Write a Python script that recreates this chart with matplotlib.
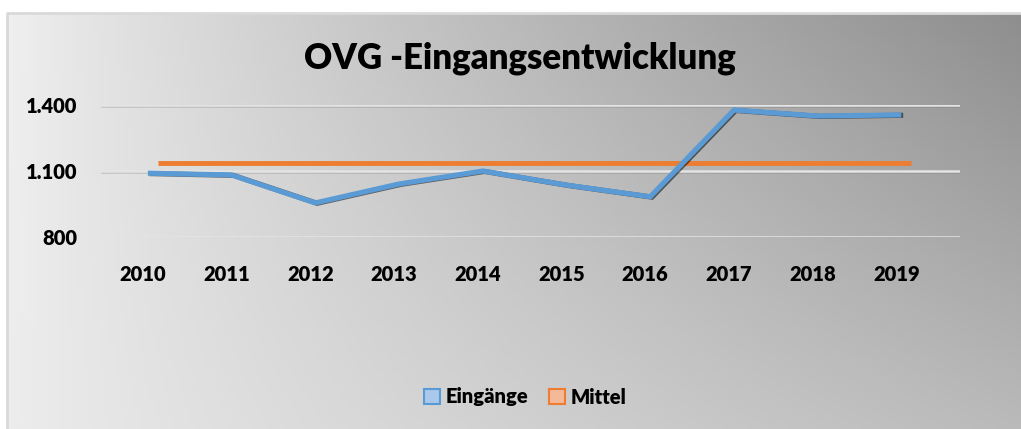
import numpy as np
import matplotlib
matplotlib.use("Agg")
import matplotlib.pyplot as plt
import matplotlib.patheffects as pe
import matplotlib.transforms as mtransforms
from matplotlib.patches import Patch

years = ["2010", "2011", "2012", "2013", "2014", "2015", "2016", "2017", "2018", "2019"]
eingaenge = [1090, 1082, 955, 1041, 1100, 1036, 983, 1377, 1350, 1355]
mittel = [1137] * 10
yticks = [800, 1100, 1400]
ytick_labels = ["800", "1.100", "1.400"]
title = "OVG -Eingangsentwicklung"

plt.rcParams['font.family'] = ['Lato', 'DejaVu Sans']
WEIGHT = 'heavy'

W, H = 1021, 429
fig = plt.figure(figsize=(W / 100, H / 100), dpi=100)
fig.patch.set_facecolor('white')

# gradient background frame
bg = fig.add_axes([7 / W, 0, 1 - 7 / W, (H - 13) / H])
bg.set_axis_off()
ny, nx = 100, 200
u = np.linspace(0, 1, nx)[None, :]
v = np.linspace(0, 1, ny)[:, None]  # 0 top, 1 bottom
tl, tr, bl, br = 240, 142, 237, 186
ug = u ** 0.85
img = (1 - v) * ((1 - ug) * tl + ug * tr) + v * ((1 - ug) * bl + ug * br)
img = np.clip(img / 255.0, 0, 1)
bg.imshow(np.dstack([img, img, img]), aspect='auto', extent=[0, 1, 0, 1], origin='upper')
bg.set_xlim(0, 1)
bg.set_ylim(0, 1)
bg.plot([0, 0, 1], [0, 1, 1], color='#d9d9d9', lw=2, transform=bg.transAxes, clip_on=False)

# main axes
left, right = 101 / W, 960 / W
top, bottom = 1 - 105 / H, 1 - 237 / H
ax = fig.add_axes([left, bottom, right - left, top - bottom])
ax.patch.set_alpha(0)
for s in ax.spines.values():
    s.set_visible(False)

x = np.arange(len(years))
ax.set_xlim(-0.5, 9.76)
ax.set_ylim(800, 1400)

for yv in yticks:
    ax.axhline(yv, color='#e4e4e4', lw=1.8, zorder=1,
               path_effects=[pe.SimpleLineShadow(offset=(0, -0.8), shadow_color='#707070', alpha=0.3), pe.Normal()])

off_blue = mtransforms.ScaledTranslation(5 / 100, 0, fig.dpi_scale_trans)
off_orange = mtransforms.ScaledTranslation(15 / 100, 0, fig.dpi_scale_trans)
ax.plot(x, mittel, color='#ed7d31', lw=3.5, solid_capstyle='butt', zorder=3,
        transform=ax.transData + off_orange)
ax.plot(x, eingaenge, color='#5b9bd5', lw=3.7, solid_capstyle='butt', solid_joinstyle='miter', zorder=4,
        transform=ax.transData + off_blue,
        path_effects=[pe.SimpleLineShadow(offset=(1.3, -0.3), shadow_color='black', alpha=0.55), pe.Normal()])

ax.set_xticks(x)
ax.set_xticklabels(years, fontsize=14.5, fontweight=WEIGHT)
ax.set_yticks(yticks)
ax.set_yticklabels(ytick_labels, fontsize=14.5, fontweight=WEIGHT)
ax.tick_params(axis='x', length=0, pad=20)
ax.tick_params(axis='y', length=0, pad=17)

fig.text(520 / W, 1 - 58 / H, title, ha='center', va='center', fontsize=25, fontweight=WEIGHT)

handles = [Patch(facecolor='#a9c8ea', edgecolor='#5b9bd5', lw=1.5, label='Eingänge'),
           Patch(facecolor='#f4b999', edgecolor='#ed7d31', lw=1.5, label='Mittel')]
fig.legend(handles=handles, loc='center', bbox_to_anchor=(525 / W, 1 - 397 / H), ncol=2, frameon=False,
           prop={'weight': WEIGHT, 'size': 14.5}, handlelength=0.8, handleheight=0.8,
           handletextpad=0.3, columnspacing=1.0)

fig.savefig('out.png', dpi=100)
